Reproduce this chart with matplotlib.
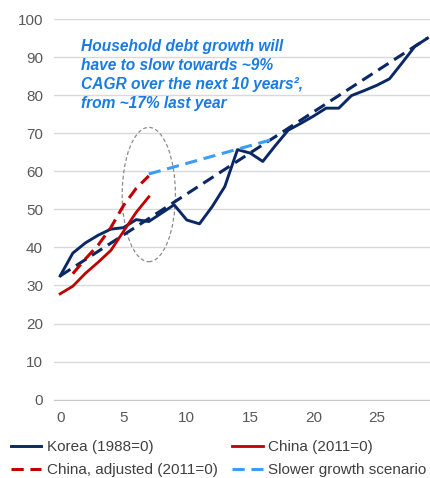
"""Household debt-to-GDP paths: Korea (1988=0) vs China (2011=0)."""

import matplotlib

matplotlib.use("Agg")
import matplotlib.pyplot as plt
from matplotlib.patches import Ellipse

plt.rcParams["font.family"] = ["Liberation Sans", "DejaVu Sans"]

NAVY = "#0b2866"
RED = "#c00000"
LIGHT_BLUE = "#3d9cf5"
TEXT_BLUE = "#1a7be0"

# years since base year
korea_x = list(range(30))
korea_y = [32.5, 38.5, 41.2, 43.2, 44.8, 45.2, 47.3, 46.8, 49.0, 51.2,
           47.2, 46.2, 50.7, 56.0, 65.7, 64.8, 62.6, 66.8, 70.8, 72.6,
           74.5, 76.6, 76.6, 79.9, 81.2, 82.6, 84.3, 88.5, 92.8, 95.0]

korea_trend_x = [0, 29]
korea_trend_y = [32.5, 95.0]

china_x = list(range(8))
china_y = [27.8, 29.8, 33.2, 36.1, 39.2, 44.2, 49.2, 53.3]

china_adj_x = [1, 2, 3, 4, 5, 6, 7]
china_adj_y = [33.1, 37.0, 40.6, 45.2, 51.0, 55.5, 58.8]

slower_x = [7, 17]
slower_y = [59.3, 68.6]

note = ("Household debt growth will\nhave to slow towards ~9%\n"
        "CAGR over the next 10 years\u00b2,\nfrom ~17% last year")

fig = plt.figure(figsize=(4.30, 4.78), dpi=100)
ax = fig.add_axes([0.126, 0.164, 0.874, 0.796])

korea, = ax.plot(korea_x, korea_y, "-", color=NAVY, lw=2.1, label="Korea (1988=0)", zorder=4)
china, = ax.plot(china_x, china_y, "-", color=RED, lw=2.0, label="China (2011=0)", zorder=4)
china_adj, = ax.plot(china_adj_x, china_adj_y, color=RED, lw=2.2, dashes=(4, 2.2),
                     label="China, adjusted (2011=0)", zorder=4)
slower, = ax.plot(slower_x, slower_y, color=LIGHT_BLUE, lw=2.2, dashes=(4, 2.2),
                  label="Slower growth scenario", zorder=4)
ax.plot(korea_trend_x, korea_trend_y, color=NAVY, lw=2.2, dashes=(4, 2.2), zorder=3)

ax.add_patch(Ellipse((7.0, 53.9), 4.2, 35.3, fill=False, ec="#8c8c8c",
                     lw=0.9, ls=(0, (3, 2)), zorder=2))

ax.text(1.65, 94.9, note, color=TEXT_BLUE, fontsize=11.2, fontweight="bold",
        fontstyle="italic", va="top", ha="left", linespacing=1.36)

ax.set_xlim(-0.47, 29.2)
ax.set_ylim(0, 100)
ax.set_xticks(range(0, 30, 5))
ax.set_yticks(range(0, 101, 10))
ax.grid(axis="y", color="#d9d9d9", lw=1.0)
ax.set_axisbelow(True)
for side in ("top", "right", "left"):
    ax.spines[side].set_visible(False)
ax.spines["bottom"].set_color("#c8c8c8")
ax.tick_params(length=0, labelsize=11, labelcolor="#595959", pad=8)

fig.legend(handles=[korea, china_adj, china, slower], loc="upper left",
           bbox_to_anchor=(0.025, 0.079), ncol=2, frameon=False,
           fontsize=11, labelcolor="#404040", handlelength=2.0,
           handletextpad=0.35, columnspacing=0.95, borderpad=0, borderaxespad=0,
           labelspacing=0.6)

fig.savefig("out.png", dpi=100)
